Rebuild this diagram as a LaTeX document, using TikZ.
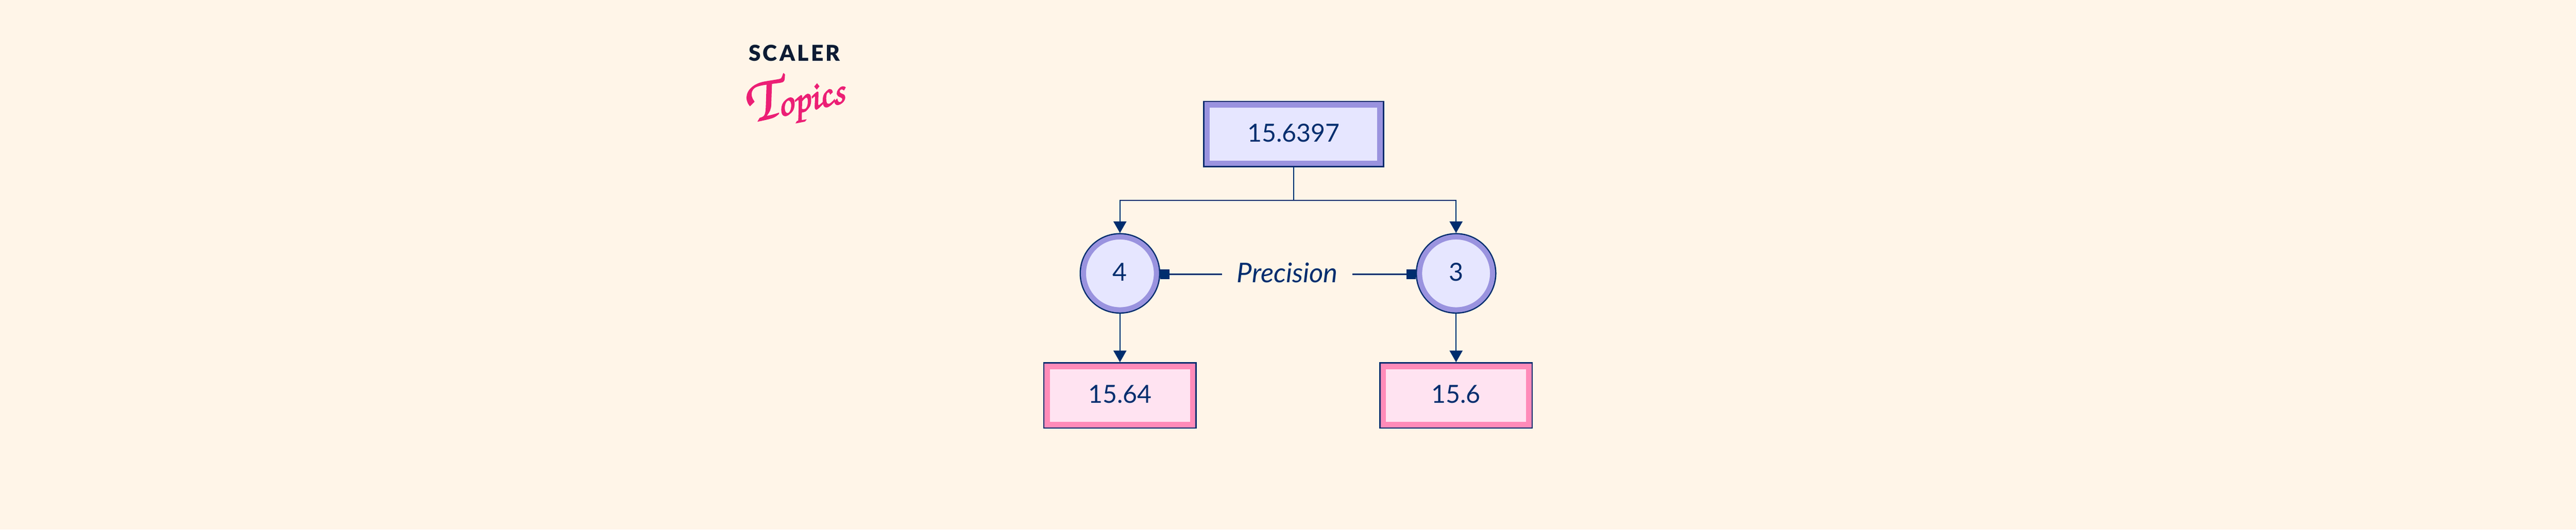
\documentclass[tikz,border=0pt]{standalone}
\usepackage[T1,TU]{fontenc}
\usepackage{fontspec}
\setmainfont{Lato}
\newfontfamily\logofont[LetterSpace=10]{Lato Black}
\usetikzlibrary{arrows.meta}
\definecolor{paper}{HTML}{FFF5E8}
\definecolor{navy}{HTML}{002D6E}
\definecolor{lavband}{HTML}{9A93DF}
\definecolor{lavfill}{HTML}{E6E6FF}
\definecolor{pinkband}{HTML}{FF8BB9}
\definecolor{pinkfill}{HTML}{FFE3F1}
\definecolor{logoink}{HTML}{0D1B33}
\definecolor{logopink}{HTML}{EC1F75}

\begin{document}
\begin{tikzpicture}[boxstyle/.style={rectangle,minimum width=#1,minimum height=1.36cm,inner sep=0,outer sep=.095cm,line width=.13cm,text=navy,text depth=.06cm,font=\fontsize{16.5}{20}\selectfont,preaction={draw=navy,line width=.19cm}},
  lavbox/.style={boxstyle=4.03cm,draw=lavband,fill=lavfill},
  pinkbox/.style={boxstyle=3.39cm,draw=pinkband,fill=pinkfill},
  lavcircle/.style={circle,minimum size=1.7cm,inner sep=0,outer sep=.09cm,line width=.12cm,draw=lavband,fill=lavfill,text=navy,text depth=.06cm,font=\fontsize{16.5}{20}\selectfont,preaction={draw=navy,line width=.18cm}},
  conn/.style={draw=navy,line width=.03cm},
  downarrow/.style={conn,-{Triangle[width=.3cm,length=.27cm]}},
  squarearrow/.style={conn,-{Square[width=.22cm,length=.22cm]}}]

  \fill[paper] (0,0) rectangle (60.01,12.34);
  \useasboundingbox (0,0) rectangle (60.01,12.34);

  \node [lavbox] (root) at (30.135,9.215) {15.6397};
  \coordinate (fork) at (30.135,7.67);

  \foreach \x/\val/\res/\resval in {26.09/4/leftres/15.64,33.92/3/rightres/15.6}
     {\node [lavcircle] (c\val) at (\x,5.97) {\val};
     \node [pinkbox] (\res) at (\x,3.125) {\resval};
     \draw [downarrow] (root.south) -- (fork) -| (c\val.north);
     \draw [downarrow] (c\val.south) -- (\res.north);}

  \node [inner sep=0,minimum width=3.02cm,text=navy,text depth=.08cm,font=\fontsize{18}{22}\selectfont\itshape] (prec) at (29.99,5.95) {Precision\hspace{.07cm}};
  \draw [squarearrow] (prec.west) -- (prec.west -| c4.east);
  \draw [squarearrow] (prec.east) -- (prec.east -| c3.west);

  \node [inner sep=0,text=logoink,font=\fontsize{14.5}{16}\logofont] (scaler) at (18.505,11.105) {SCALER};
  \node [inner sep=0,text=logopink,rotate=12,font=\fontsize{26}{28}\usefont{T1}{pzc}{mb}{it}] (topics) at (18.5,10.05) {\special{pdf:code 2 Tr 0.6 w}{\fontsize{42}{42}\selectfont T}opics\special{pdf:code 0 Tr}};
\end{tikzpicture}
\end{document}
